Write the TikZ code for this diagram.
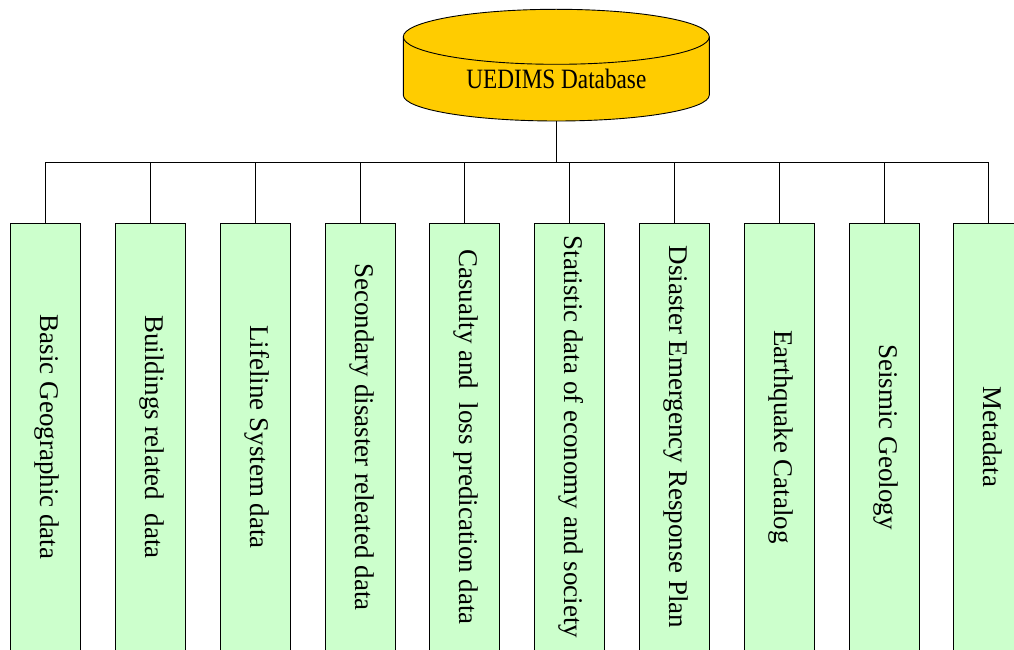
\documentclass[tikz,border=0pt]{standalone}
\usepackage{fontspec}
\setmainfont{Liberation Serif}
\definecolor{dbyellow}{HTML}{FFCC00}
\definecolor{boxgreen}{HTML}{CCFFCC}
\begin{document}
\begin{tikzpicture}[x=1pt,y=-1pt,
  line width=0.9pt,
  catbox/.style={draw=black, fill=boxgreen, rotate=-90, minimum width=428pt,
    minimum height=70pt, inner sep=0pt, text height=18pt, text depth=8pt,
    font=\fontsize{27}{30}\selectfont},
  conn/.style={draw=black, line width=0.9pt},
  dbtext/.style={anchor=base, inner sep=0pt, font=\fontsize{28}{30}\selectfont}]
\useasboundingbox (0,0) rectangle (1014,650);
\clip (0,0) rectangle (1014,650);
% database cylinder
\path[fill=dbyellow, draw=black] (403.3,36.8) -- (403.3,95)
  arc[start angle=180, end angle=360, x radius=153pt, y radius=26pt]
  -- (709.3,36.8)
  arc[start angle=0, end angle=180, x radius=153pt, y radius=27.5pt] -- cycle;
\draw (403.3,36.8) arc[start angle=180, end angle=360, x radius=153pt, y radius=27.5pt];
\node[dbtext] (db) at (556.3,88.3) {\scalebox{0.83}[1]{UEDIMS Database}};
\coordinate (dbbot) at (556.3,121);
\coordinate (bar) at (556.3,162.3);
% category boxes
\node[catbox] (b1) at (45.7,437) {Basic Geographic data};
\node[catbox] (b2) at (150.5,437) {Buildings related\ \ data};
\node[catbox] (b3) at (255.3,437) {Lifeline System data};
\node[catbox] (b4) at (360.1,437) {Secondary disaster releated data};
\node[catbox] (b5) at (464.9,437) {Casualty and\ \ loss predication data};
\node[catbox] (b6) at (569.7,437) {Statistic data of economy and society};
\node[catbox] (b7) at (674.5,437) {Dsiaster Emergency Response Plan};
\node[catbox] (b8) at (779.3,437) {Earthquake Catalog};
\node[catbox] (b9) at (884.1,437) {Seismic Geology};
\node[catbox] (b10) at (988.9,437) {Metadata};
% connectors
\draw[conn] (dbbot) -- (bar);
\draw[conn] (b1.west |- bar) -- (b10.west |- bar);
\foreach \i in {1,...,10} {
  \draw[conn] (b\i.west) -- (b\i.west |- bar);
}
\end{tikzpicture}
\end{document}
